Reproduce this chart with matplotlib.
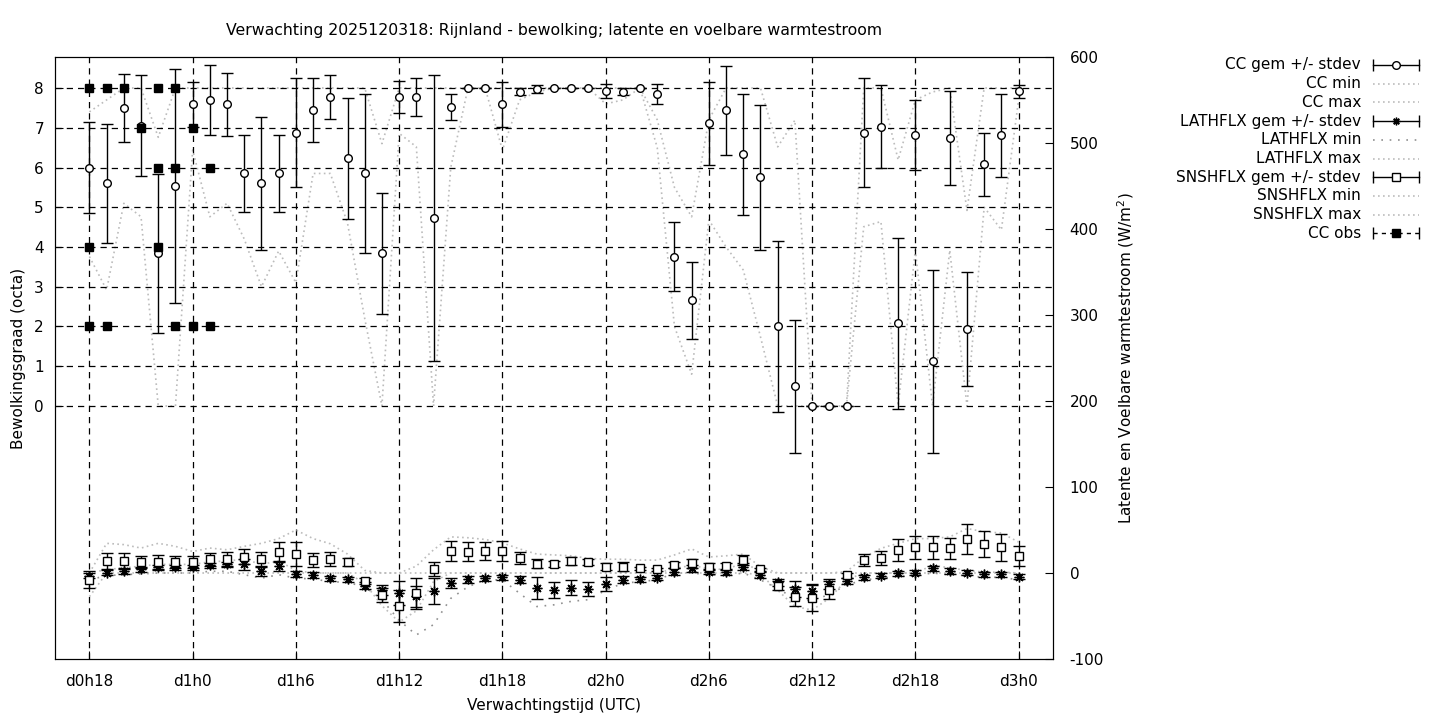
import matplotlib
matplotlib.use("Agg")
import matplotlib.pyplot as plt
from matplotlib.lines import Line2D

# forecast hours (d0h18 .. d3h0)
hours = list(range(18, 73))

cc_mean = [6.0, 5.6, 7.5, 7.05, 3.84, 5.53, 7.59, 7.69, 7.59, 5.85,
           5.6, 5.85, 6.88, 7.44, 7.77, 6.23, 5.85, 3.84, 7.77, 7.77,
           4.72, 7.52, 8.0, 8.0, 7.59, 7.91, 7.97, 8.0, 8.0, 8.0,
           7.93, 7.91, 8.0, 7.84, 3.76, 2.66, 7.11, 7.44, 6.33, 5.75,
           2.0, 0.5, 0.0, 0.0, 0.0, 6.88, 7.03, 2.08, 6.81, 1.13,
           6.74, 1.93, 6.08, 6.81, 7.92]
cc_sd = [1.15, 1.5, 0.85, 1.27, 2.0, 2.95, 0.57, 0.88, 0.79, 0.97,
         1.68, 0.97, 1.36, 0.8, 0.55, 1.52, 2.0, 1.52, 0.4, 0.48,
         3.6, 0.32, 0.0, 0.0, 0.57, 0.08, 0.1, 0.0, 0.0, 0.0,
         0.18, 0.08, 0.0, 0.25, 0.87, 0.97, 1.04, 1.12, 1.52, 1.83,
         2.16, 1.67, 0.0, 0.0, 0.0, 1.36, 1.04, 2.15, 0.88, 2.3,
         1.19, 1.43, 0.8, 1.05, 0.16]
cc_min = [3.76, 2.92, 5.1, 4.76, 0.0, 0.0, 6.44, 4.76, 5.1, 4.2,
          3.0, 3.9, 3.1, 5.85, 5.85, 4.6, 2.2, 0.0, 6.86, 6.52,
          0.0, 6.0, 8.0, 8.0, 6.44, 7.7, 7.9, 8.0, 8.0, 8.0,
          7.6, 7.7, 8.0, 6.5, 2.0, 0.8, 4.68, 4.0, 3.42, 1.74,
          0.0, 0.0, 0.0, 0.0, 0.0, 4.51, 4.64, 0.0, 3.92, 0.0,
          3.92, 0.0, 5.0, 4.43, 7.7]
cc_max = [7.4, 7.7, 8.0, 8.0, 6.76, 8.0, 8.0, 8.0, 8.0, 8.0,
          8.0, 8.0, 8.0, 8.0, 8.0, 8.0, 8.0, 6.6, 8.0, 8.0,
          8.0, 8.0, 8.0, 8.0, 8.0, 8.0, 8.0, 8.0, 8.0, 8.0,
          8.0, 8.0, 8.0, 7.2, 5.5, 4.76, 7.2, 8.0, 8.0, 8.0,
          6.52, 7.19, 0.0, 0.0, 0.0, 8.0, 8.0, 6.19, 7.7, 7.9,
          8.0, 4.92, 8.0, 8.0, 8.0]

# observations (several stations per hour)
obs_hours = [18, 18, 18, 19, 19, 20, 21, 22, 22, 22, 23, 23, 23, 24, 24, 25, 25]
obs_cc = [8, 4, 2, 8, 2, 8, 7, 8, 6, 4, 8, 6, 2, 7, 2, 6, 2]

lat_mean = [-3.0, 0.4, 2.3, 4.3, 6.4, 6.4, 6.4, 9.0, 10.0, 10.0,
            2.3, 8.1, -1.2, -2.3, -6.2, -7.2, -15.0, -19.8, -23.0, -27.0,
            -21.0, -12.0, -7.4, -6.2, -5.2, -7.7, -17.5, -19.8, -17.0, -18.6,
            -13.0, -8.0, -7.4, -5.4, 1.5, 5.4, 1.5, 0.8, 7.4, -2.3,
            -11.0, -18.6, -20.5, -13.0, -9.3, -5.2, -3.0, -0.4, 0.4, 5.4,
            2.3, 0.4, -1.6, -1.6, -4.3]
lat_sd = [3, 3, 3, 3, 3, 3, 3, 3, 3, 6,
          6, 6, 3, 3, 3, 3, 4, 6, 14, 12,
          15, 6, 4, 3, 3, 4, 12.5, 9, 9, 8,
          8, 4, 3, 3, 4, 4, 3, 3, 4, 4,
          4, 9, 8, 6, 4, 3, 3, 3, 3, 3,
          3, 3, 3, 3, 3]
lat_min = [-8, -3, -2, -1, 0, 0, 0, 2, 2, -2,
           -6, -2, -6, -7, -10, -11, -16, -31, -55, -72,
           -60, -29.5, -16, -8, -8, -23.6, -39, -37, -33, -31,
           -20, -12, -10, -8, 0, 0, -2, -3, 0, -8,
           -18, -30, -32, -25, -14, -8, -6, -4, -3, 0,
           -2, -3, -5, -5, -8]
lat_max = [0, 4, 6, 8, 10, 10, 10, 13, 14, 16,
           10, 14, 3, 0, 0, 0, 0, 0, 0, 0,
           0, 0, 0, 0, 0, 0, 0, 0, 0, 0,
           0, 0, 0, 0, 5, 9, 5, 4, 12, 2,
           0, 0, 0, 0, 0, 0, 0, 0, 0, 9,
           6, 3, 1, 1, 0]

snsh_mean = [-8.0, 14.0, 14.0, 12.4, 12.4, 12.4, 12.4, 15.9, 15.9, 19.0,
             15.9, 24.0, 21.7, 15.1, 16.3, 12.6, -9.3, -25.6, -38.5, -23.6,
             4.5, 25.6, 25.0, 25.6, 25.6, 17.4, 10.8, 10.5, 14.0, 12.8,
             7.4, 7.4, 5.4, 4.3, 9.3, 11.2, 7.4, 8.1, 15.1, 4.3,
             -14.7, -27.5, -29.0, -19.8, -2.5, 15.1, 17.4, 26.7, 29.8, 29.8,
             28.7, 39.5, 33.3, 29.8, 19.8]
snsh_sd = [10, 9, 9, 7, 8, 7, 7, 7.5, 8, 8.5,
           8.7, 11.6, 14, 8, 8, 4.5, 4, 8, 19, 18,
           8.5, 12, 11, 10, 12, 7, 5, 3.5, 5, 4,
           4, 5, 2, 2, 4, 5, 4, 4, 6, 2,
           5, 11, 15, 10, 3, 7, 8, 12.5, 13, 13,
           12, 17, 15, 16, 12]
snsh_min = [-27.5, 0, 0, 0, 0, 0, 0, 0, 0, 0,
            0, 0, 0, 0, 0, 0, -12, -38, -57, -44,
            -10, 0, 0, 0, 0, 0, 0, 0, 0, 0,
            0, 0, 0, 0, 0, 0, 0, 0, 0, -2,
            -20, -39, -43, -29.5, -8, 0, 0, 0, 0, 0,
            0, 0, 0, 0, 0]
snsh_max = [0, 34.5, 33, 29, 34.5, 31, 25, 29, 27, 31,
            34.5, 40, 50, 40, 34, 22, 3, 0, 0, 8,
            27, 42, 41, 39, 35, 28, 22, 21, 20, 17,
            16, 16, 15, 15, 21, 28, 18.6, 20, 22, 7.4,
            0, 0, 0, 0, 1.5, 18, 28.7, 34.5, 40, 40,
            42, 51.7, 48, 46.5, 36]

xticks = list(range(18, 73, 6))
xlabels = [f"d{h // 24}h{h % 24}" for h in xticks]

plt.rcParams["font.family"] = ["DejaVu Sans"]
plt.rcParams["font.size"] = 11
plt.rcParams["axes.unicode_minus"] = False

W, H = 1440, 720
fig = plt.figure(figsize=(W / 100, H / 100), dpi=100)
ax = fig.add_axes([55 / W, 1 - 659 / H, (1053 - 55) / W, (659 - 57) / H])
ax2 = ax.twinx()

gray = "#bcbcbc"
dot = (0, (1, 2))
dash = (0, (5, 4))

# cloud cover (left axis)
ax.plot(hours, cc_min, color=gray, lw=1.2, ls=dot, zorder=1)
ax.plot(hours, cc_max, color=gray, lw=1.2, ls=dot, zorder=1)
ax.errorbar(hours, cc_mean, yerr=cc_sd, fmt="o", ms=5.5, mfc="white",
            mec="black", mew=1, ecolor="black", elinewidth=1,
            capsize=4.3, capthick=1, zorder=3)
ax.plot(obs_hours, obs_cc, "s", color="black", ms=6.3, zorder=4)

ax.set_xlim(16, 74)
ax.set_ylim(-6.365, 8.78)
ax.set_xticks(xticks)
ax.set_xticklabels(xlabels)
ax.set_yticks(range(0, 9))
ax.grid(True, color="black", ls=dash, lw=0.9)
ax.tick_params(axis="x", direction="in", length=6, top=False, pad=11)
ax.tick_params(axis="y", direction="in", length=6, pad=8)
ax.set_ylabel("Bewolkingsgraad (octa)", labelpad=6)
ax.set_xlabel("Verwachtingstijd (UTC)", labelpad=6)
ax.set_title("Verwachting 2025120318: Rijnland - bewolking; latente en voelbare warmtestroom",
             pad=16, fontsize=11.3)

# heat fluxes (right axis)
ax2.plot(hours, lat_min, color="#909090", lw=1.2, ls=(0, (1, 4)), zorder=1)
ax2.plot(hours, lat_max, color=gray, lw=1.2, ls=dot, zorder=1)
ax2.plot(hours, snsh_min, color=gray, lw=1.2, ls=dot, zorder=1)
ax2.plot(hours, snsh_max, color=gray, lw=1.2, ls=dot, zorder=1)
ax2.errorbar(hours, lat_mean, yerr=lat_sd, fmt="none", ecolor="black",
             elinewidth=1, capsize=4.3, capthick=1, zorder=3)
ax2.plot(hours, lat_mean, ls="none", marker=(8, 2, 0), ms=7, color="black",
         mew=1, zorder=3)
ax2.errorbar(hours, snsh_mean, yerr=snsh_sd, fmt="s", ms=6.3, mfc="white",
             mec="black", mew=1, ecolor="black", elinewidth=1,
             capsize=4.3, capthick=1, zorder=4)
ax2.set_ylim(-100, 600)
ax2.set_yticks(range(-100, 601, 100))
ax2.tick_params(direction="in", length=6, pad=12)
ax2.set_ylabel("Latente en Voelbare warmtestroom (W/m$^2$)", labelpad=8)

# gnuplot style key, outside right
entries = [
    ("CC gem +/- stdev", "err", "o", "white"),
    ("CC min", "dot", None, None),
    ("CC max", "dot", None, None),
    ("LATHFLX gem +/- stdev", "err", (8, 2, 0), "black"),
    ("LATHFLX min", "sparse", None, None),
    ("LATHFLX max", "dot", None, None),
    ("SNSHFLX gem +/- stdev", "err", "s", "white"),
    ("SNSHFLX min", "dot", None, None),
    ("SNSHFLX max", "dot", None, None),
    ("CC obs", "obs", "s", "black"),
]
x_txt, x0, x1 = 1361 / W, 1373 / W, 1419 / W
xm = 1396 / W
for i, (label, kind, mk, fc) in enumerate(entries):
    y = 1 - (65 + i * 18.7) / H
    fig.text(x_txt, y, label, ha="right", va="center", fontsize=11)
    if kind in ("err", "obs"):
        ls = "-" if kind == "err" else (0, (3, 3))
        fig.add_artist(Line2D([x0, x1], [y, y], transform=fig.transFigure,
                              color="black", lw=1, ls=ls))
        fig.add_artist(Line2D([x0, x1], [y, y], transform=fig.transFigure,
                              ls="none", marker="|", ms=9, color="black", mew=1))
        ms = 5.5 if kind == "err" else 6
        fig.add_artist(Line2D([xm], [y], transform=fig.transFigure, ls="none",
                              marker=mk, ms=ms, mfc=fc, mec="black", color="black",
                              mew=1))
    elif kind == "sparse":
        fig.add_artist(Line2D([x0, x1], [y, y], transform=fig.transFigure,
                              color="#909090", lw=1.2, ls=(0, (1, 4))))
    else:
        fig.add_artist(Line2D([x0, x1], [y, y], transform=fig.transFigure,
                              color=gray, lw=1.2, ls=dot))

fig.savefig("out.png", dpi=100)
